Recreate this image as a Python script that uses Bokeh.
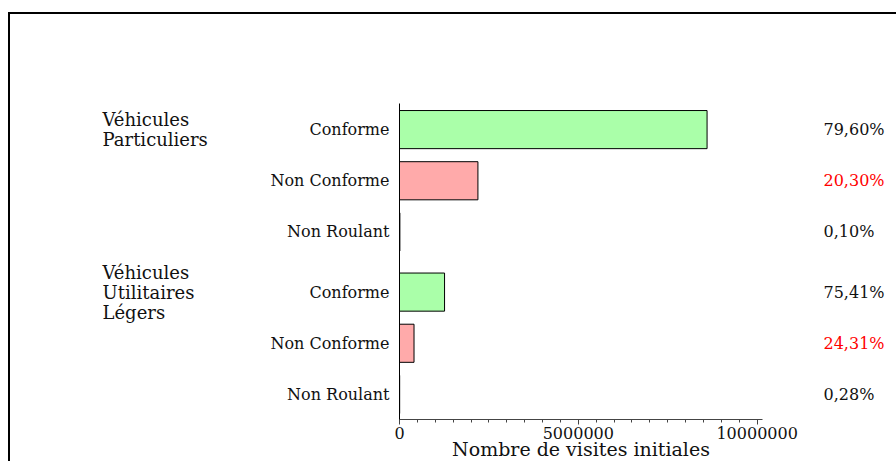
from bokeh.plotting import figure
from bokeh.models import Range1d, FixedTicker, LinearAxis
from bokeh.embed import file_html
from bokeh.resources import INLINE

# ---- data ----
groups = ["Véhicules\nParticuliers", "Véhicules\nUtilitaires\nLégers"]
statuses = ["Conforme", "Non Conforme", "Non Roulant"]
vp_visits = [8600000, 2193000, 10800]
vul_visits = [1260000, 406000, 4700]
vp_pct = ["79,60%", "20,30%", "0,10%"]
vul_pct = ["75,41%", "24,31%", "0,28%"]
x_ticks = [0, 5000000, 10000000]
x_max = 10150000

# ---- styles / layout ----
status_fill = {"Conforme": "#aaffa9", "Non Conforme": "#ffaaaa", "Non Roulant": "#ffffaa"}
GAP = 0.176
SERIF = "DejaVu Serif"
TXT = "#111111"
FRAME_W, FRAME_H = 363, 316

ys, rights, fills, labels = [], [], [], []
pct_black, pct_red = {}, {}
group_ticks = {}
for gi, (vals, pc) in enumerate([(vp_visits, vp_pct), (vul_visits, vul_pct)]):
    for si, st in enumerate(statuses):
        y = gi * (len(statuses) + GAP) + si
        ys.append(y)
        rights.append(vals[si])
        fills.append(status_fill[st])
        labels.append(st)
        if st == "Non Conforme":
            pct_red[y] = pc[si]
        else:
            pct_black[y] = pc[si]
        if si == 0:
            group_ticks[y] = groups[gi]

p = figure(width=886, height=447, frame_width=FRAME_W, frame_height=FRAME_H,
           min_border_left=389, min_border_right=134, min_border_top=89,
           min_border_bottom=42,
           x_range=Range1d(0, x_max), y_range=Range1d(ys[-1] + 0.49, -0.51),
           output_backend="svg", toolbar_location=None, tools="")
p.styles = {"margin-left": "8px", "margin-top": "12px",
            "border-left": "2px solid black", "border-top": "2px solid black"}

p.hbar(y=ys, left=0, right=rights, height=0.745, fill_color=fills,
       line_color="black", line_width=1)

p.xgrid.visible = False
p.ygrid.visible = False
p.outline_line_color = None

# x axis
xa = p.xaxis[0]
xa.ticker = FixedTicker(ticks=x_ticks, minor_ticks=[i * 500000 for i in range(21)])
xa.axis_line_color = "#444444"
xa.major_tick_line_color = "#444444"
xa.minor_tick_line_color = "#444444"
xa.major_tick_in = 0
xa.major_tick_out = 5
xa.minor_tick_in = 0
xa.minor_tick_out = 3
xa.major_label_text_font = SERIF
xa.major_label_text_font_size = "16px"
xa.major_label_text_color = TXT
xa.major_label_standoff = 2
xa.major_label_overrides = {t: str(t) for t in x_ticks}
xa.axis_label = "Nombre de visites initiales"
xa.axis_label_text_font = SERIF
xa.axis_label_text_font_size = "19px"
xa.axis_label_text_font_style = "normal"
xa.axis_label_text_color = TXT
xa.axis_label_standoff = -4

# y axis (status labels)
ya = p.yaxis[0]
ya.ticker = FixedTicker(ticks=ys, minor_ticks=[])
ya.major_label_overrides = {y: l for y, l in zip(ys, labels)}
ya.axis_line_color = "black"
ya.major_tick_line_color = None
ya.minor_tick_line_color = None
ya.major_tick_in = 0
ya.major_tick_out = 0
ya.major_label_standoff = 10
ya.major_label_text_font = SERIF
ya.major_label_text_font_size = "16px"
ya.major_label_text_color = TXT


def text_axis(ticks, color, size, standoff, line_height=1.2):
    return LinearAxis(ticker=FixedTicker(ticks=list(ticks), minor_ticks=[]),
                      major_label_overrides=dict(ticks),
                      axis_line_color=None, major_tick_line_color=None,
                      minor_tick_line_color=None, major_tick_in=0, major_tick_out=0,
                      major_label_standoff=standoff, major_label_text_font=SERIF,
                      major_label_text_font_size=size, major_label_text_color=color,
                      major_label_text_line_height=line_height)


# percentages column (right of the chart)
p.add_layout(text_axis(pct_black, TXT, "16px", 61), "right")
p.add_layout(text_axis(pct_red, "#ff0000", "16px", -64), "right")
# group labels (left aligned, pulled back to the left edge)
p.add_layout(text_axis(group_ticks, TXT, "18px", -785, 0.95), "right")

open("out.html", "w").write(file_html(p, INLINE))
